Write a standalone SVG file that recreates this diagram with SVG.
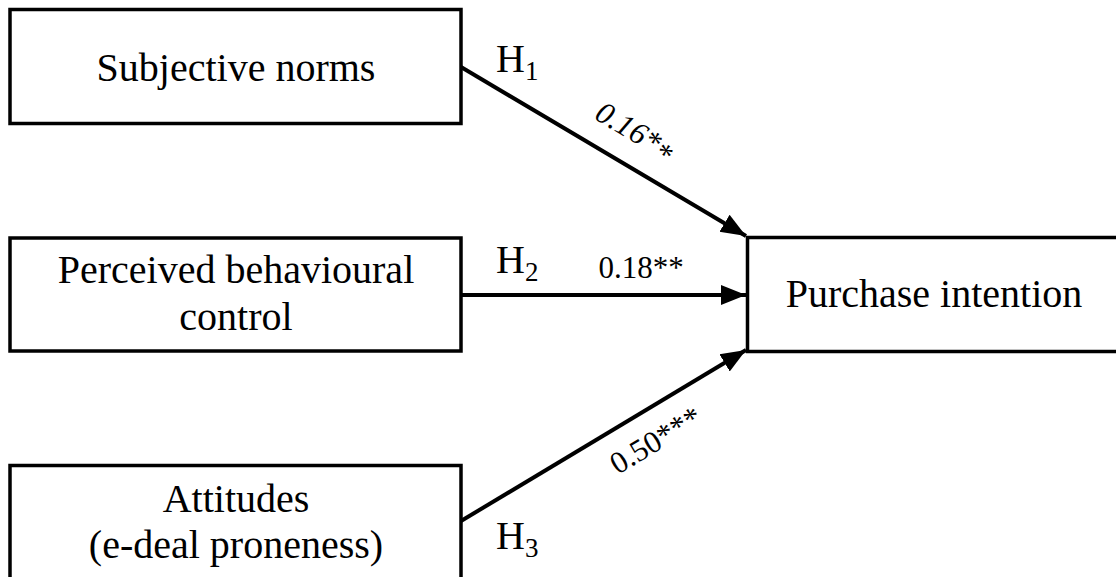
<svg xmlns="http://www.w3.org/2000/svg" width="1116" height="577" viewBox="0 0 1116 577">
<style>
.box{fill:#fff;stroke:#000;stroke-width:3.5}
.t{font-family:'Liberation Serif',Tinos,'Times New Roman',Times,serif;font-size:40px;fill:#000;text-anchor:middle}
.h{font-family:'Liberation Serif',Tinos,'Times New Roman',Times,serif;font-size:40px;fill:#000}
.sub{font-size:27px}
.c{font-family:'Liberation Serif',Tinos,'Times New Roman',Times,serif;font-size:31px;fill:#000;text-anchor:middle}
.e{stroke:#000;stroke-width:4;fill:none}
</style>
<defs>
<marker id="ah" markerUnits="userSpaceOnUse" markerWidth="26" markerHeight="22" viewBox="0 0 26 22" refX="25" refY="11" orient="auto">
<path d="M0,1 L25,11 L0,21 Z" fill="#000"/>
</marker>
</defs>
<rect width="1116" height="577" fill="#fff"/>
<g id="n1">
<rect class="box" x="10" y="9.5" width="451" height="114"/>
<text class="t" x="236" y="81">Subjective norms</text>
</g>
<g id="n2">
<rect class="box" x="10" y="238" width="451" height="113"/>
<text class="t" x="236" y="283">Perceived behavioural</text>
<text class="t" x="236" y="330">control</text>
</g>
<g id="n3">
<rect class="box" x="10" y="465.5" width="451" height="130"/>
<text class="t" x="236" y="512">Attitudes</text>
<text class="t" x="236" y="558">(e-deal proneness)</text>
</g>
<g id="n4">
<rect class="box" x="747.5" y="237.5" width="380" height="114"/>
<text class="t" x="934" y="307">Purchase intention</text>
</g>
<g id="edges">
<line class="e" x1="461" y1="67" x2="746" y2="236" marker-end="url(#ah)"/>
<line class="e" x1="461" y1="295" x2="746" y2="295" marker-end="url(#ah)"/>
<line class="e" x1="461" y1="521" x2="746" y2="350" marker-end="url(#ah)"/>
<text class="h" x="496" y="72">H<tspan class="sub" dy="8">1</tspan></text>
<text class="h" x="496" y="273">H<tspan class="sub" dy="8">2</tspan></text>
<text class="h" x="496" y="549">H<tspan class="sub" dy="8">3</tspan></text>
<text class="c" font-style="italic" transform="translate(630,140) rotate(30.7)">0.16*<tspan dy="5">*</tspan></text>
<text class="c" x="641" y="278">0.18**</text>
<text class="c" transform="translate(661,449) rotate(-31)">0.50***</text>
</g>
</svg>
